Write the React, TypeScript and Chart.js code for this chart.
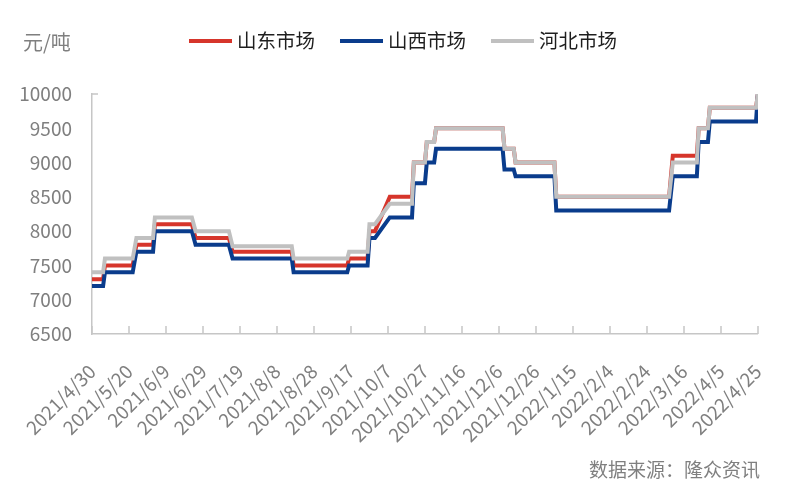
import React, { useEffect, useRef } from 'react';
import { Chart, registerables } from 'chart.js';

Chart.register(...registerables);

const FONT = '"Noto Sans CJK SC", "Noto Sans", sans-serif';

// ---- data ----
const startDate = '2021/4/30';
const tickStepDays = 20;

const dates = [
  '2021/4/30', '2021/5/6', '2021/5/7', '2021/5/22', '2021/5/24', '2021/6/2', '2021/6/3',
  '2021/6/23', '2021/6/25', '2021/7/13', '2021/7/15', '2021/8/16', '2021/8/17', '2021/9/15',
  '2021/9/16', '2021/9/26', '2021/9/27', '2021/9/30', '2021/10/8', '2021/10/20', '2021/10/21',
  '2021/10/27', '2021/10/28', '2021/11/1', '2021/11/2', '2021/12/8', '2021/12/9', '2021/12/14',
  '2021/12/15', '2022/1/5', '2022/1/6', '2022/3/8', '2022/3/10', '2022/3/23', '2022/3/24',
  '2022/3/29', '2022/3/30', '2022/4/24', '2022/4/25',
];

const shandong = [
  7300, 7300, 7500, 7500, 7800, 7800, 8100,
  8100, 7900, 7900, 7700, 7700, 7500, 7500,
  7600, 7600, 8000, 8000, 8500, 8500, 9000,
  9000, 9300, 9300, 9500, 9500, 9200, 9200,
  9000, 9000, 8500, 8500, 9100, 9100, 9500,
  9500, 9800, 9800, 10000,
];

const shanxi = [
  7200, 7200, 7400, 7400, 7700, 7700, 8000,
  8000, 7800, 7800, 7600, 7600, 7400, 7400,
  7500, 7500, 7900, 7900, 8200, 8200, 8700,
  8700, 9000, 9000, 9200, 9200, 8900, 8900,
  8800, 8800, 8300, 8300, 8800, 8800, 9300,
  9300, 9600, 9600, 10000,
];

const hebei = [
  7400, 7400, 7600, 7600, 7900, 7900, 8200,
  8200, 8000, 8000, 7780, 7780, 7600, 7600,
  7700, 7700, 8100, 8100, 8400, 8400, 9000,
  9000, 9300, 9300, 9500, 9500, 9200, 9200,
  9000, 9000, 8500, 8500, 9000, 9000, 9500,
  9500, 9800, 9800, 10000,
];

const seriesNames = ['山东市场', '山西市场', '河北市场'];
const seriesColors = ['#D6352B', '#0A3C8C', '#C0C0C0'];
const yMin = 6500;
const yMax = 10000;
const yStep = 500;
const unitLabel = '元/吨';
const sourceLabel = '数据来源：隆众资讯';

// ---- helpers ----
const parse = (s: string) => {
  const [y, m, d] = s.split('/').map(Number);
  return Date.UTC(y, m - 1, d);
};
const DAY = 86400000;
const t0 = parse(startDate);
const dayIndex = (s: string) => Math.round((parse(s) - t0) / DAY);
const dayLabel = (n: number) => {
  const d = new Date(t0 + n * DAY);
  return `${d.getUTCFullYear()}/${d.getUTCMonth() + 1}/${d.getUTCDate()}`;
};
const xMax = dayIndex(dates[dates.length - 1]);

const AXIS_COLOR = '#C6C6C6';
const LABEL_COLOR = '#7F7F7F';

const decor = {
  id: 'decor',
  afterDraw(chart: any) {
    const { ctx, chartArea, scales } = chart;
    const xs = scales.x;
    ctx.save();
    // inward tick marks on x axis
    ctx.strokeStyle = AXIS_COLOR;
    ctx.lineWidth = 1.5;
    xs.ticks.forEach((t: any) => {
      const px = Math.round(xs.getPixelForValue(t.value));
      ctx.beginPath();
      ctx.moveTo(px, chartArea.bottom);
      ctx.lineTo(px, chartArea.bottom - 8);
      ctx.stroke();
    });
    // small tick at top of y axis
    ctx.beginPath();
    ctx.moveTo(chartArea.left, chartArea.top);
    ctx.lineTo(chartArea.left + 6, chartArea.top);
    ctx.stroke();

    // unit label
    ctx.fillStyle = LABEL_COLOR;
    ctx.font = `20px ${FONT}`;
    ctx.textAlign = 'left';
    ctx.textBaseline = 'middle';
    ctx.fillText(unitLabel, 23, 42);

    // legend
    ctx.font = `19.5px ${FONT}`;
    const lineW = 43;
    const gap = 5;
    const spacing = 25;
    const widths = seriesNames.map((n) => ctx.measureText(n).width);
    const total = widths.reduce((a, w) => a + lineW + gap + w, 0) + spacing * (seriesNames.length - 1);
    let x = 403 - total / 2;
    const ly = 41;
    seriesNames.forEach((n, i) => {
      ctx.strokeStyle = seriesColors[i];
      ctx.lineWidth = 4;
      ctx.beginPath();
      ctx.moveTo(x, ly);
      ctx.lineTo(x + lineW, ly);
      ctx.stroke();
      ctx.fillStyle = '#1E1E1E';
      ctx.fillText(n, x + lineW + gap, ly);
      x += lineW + gap + widths[i] + spacing;
    });

    // source
    ctx.fillStyle = LABEL_COLOR;
    ctx.font = `19px ${FONT}`;
    ctx.textAlign = 'right';
    ctx.fillText(sourceLabel, 760, 470);
    ctx.restore();
  },
};

export default function App() {
  const ref = useRef<HTMLCanvasElement>(null);

  useEffect(() => {
    if (!ref.current) return;
    const mk = (vals: number[]) => dates.map((d, i) => ({ x: dayIndex(d), y: vals[i] }));
    const chart = new Chart(ref.current, {
      type: 'line',
      data: {
        datasets: [
          { label: seriesNames[0], data: mk(shandong), borderColor: seriesColors[0], order: 2 },
          { label: seriesNames[1], data: mk(shanxi), borderColor: seriesColors[1], order: 1 },
          { label: seriesNames[2], data: mk(hebei), borderColor: seriesColors[2], order: 0 },
        ].map((d) => ({
          ...d,
          borderWidth: 4,
          pointRadius: 0,
          tension: 0,
          fill: false,
          borderJoinStyle: 'miter' as const,
        })),
      },
      options: {
        responsive: false,
        animation: false,
        layout: { padding: { top: 94, right: 42, left: 0, bottom: 0 } },
        plugins: { legend: { display: false }, tooltip: { enabled: false } },
        scales: {
          x: {
            type: 'linear',
            min: 0,
            max: xMax,
            grid: { display: false, drawTicks: false },
            border: { display: true, color: AXIS_COLOR, width: 1.5 },
            ticks: {
              stepSize: tickStepDays,
              autoSkip: false,
              maxRotation: 45,
              minRotation: 45,
              padding: 26,
              color: LABEL_COLOR,
              font: { family: FONT, size: 19 },
              callback: (v: any) => dayLabel(Number(v)),
            },
            afterFit: (s: any) => {
              s.height = 166;
            },
          },
          y: {
            min: yMin,
            max: yMax,
            grid: { display: false, drawTicks: false },
            border: { display: true, color: AXIS_COLOR, width: 1.5 },
            ticks: {
              stepSize: yStep,
              padding: 20,
              color: LABEL_COLOR,
              font: { family: FONT, size: 19 },
              callback: (v: any) => String(v),
            },
            afterFit: (s: any) => {
              s.width = 92;
            },
          },
        },
      },
      plugins: [decor],
    });
    return () => chart.destroy();
  }, []);

  return (
    <div style={{ position: 'absolute', left: 0, top: 0, width: 800, height: 500, background: '#fff' }}>
      <canvas ref={ref} width={800} height={500} style={{ display: 'block' }} />
    </div>
  );
}
